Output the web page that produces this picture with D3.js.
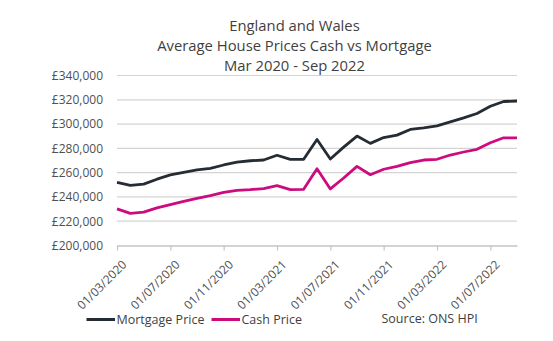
<!DOCTYPE html>
<html>
<head>
<meta charset="utf-8">
<script src="https://d3js.org/d3.v7.min.js"></script>
<style>
  html, body { margin: 0; padding: 0; background: #fff; }
  svg { display: block; font-family: "Open Sans", sans-serif; }
</style>
</head>
<body>
<svg id="chart" width="553" height="341"></svg>
<script>
// monthly figures, Mar 2020 .. Sep 2022
const months = d3.timeMonth.range(new Date(2020, 2, 1), new Date(2022, 9, 1));

const mortgagePrice = [
  252000, 249600, 250500, 254600, 258100, 260300, 262200, 263600, 266300, 268600,
  269800, 270400, 274300, 271000, 271000, 287300, 271200, 281000, 290100, 284100,
  288900, 290900, 295600, 296900, 298500, 301800, 305100, 308700, 314700, 318600,
  319000
];

const cashPrice = [
  230200, 226400, 227500, 231000, 233700, 236400, 238900, 241000, 243800, 245400,
  246000, 246900, 249300, 246000, 246300, 263200, 246600, 255600, 265200, 258300,
  262800, 265200, 268200, 270400, 271000, 274500, 277000, 279200, 284600, 288700,
  288700
];

const yTicks = [200000, 220000, 240000, 260000, 280000, 300000, 320000, 340000];
const titleLines = ["England and Wales", "Average House Prices Cash vs Mortgage", "Mar 2020 - Sep 2022"];

const series = [
  { name: "Mortgage Price", values: mortgagePrice, color: "#252c33" },
  { name: "Cash Price", values: cashPrice, color: "#cc0b7f" }
];

const svg = d3.select("#chart");
const plotL = 117, plotR = 517, plotT = 75.5, plotB = 245.5;

const x = d3.scaleLinear().domain([0, months.length - 1]).range([plotL, plotR]);
const y = d3.scaleLinear().domain([200000, 340000]).range([plotB, plotT]);

const fmtDate = d3.timeFormat("%d/%m/%Y");
const fmtMoney = v => "£" + d3.format(",")(v);

// title
svg.append("g").selectAll("text")
  .data(titleLines)
  .enter().append("text")
  .attr("x", 294.5)
  .attr("y", (d, i) => 31 + i * 19.8)
  .attr("text-anchor", "middle")
  .attr("font-size", 14.8)
  .attr("fill", "#3f3f3f")
  .text(d => d);

// gridlines
svg.append("g").selectAll("line")
  .data(yTicks.slice(1))
  .enter().append("line")
  .attr("x1", plotL).attr("x2", plotR)
  .attr("y1", d => y(d)).attr("y2", d => y(d))
  .attr("stroke", "#d4d4d4")
  .attr("stroke-width", 1.2);

// y axis labels
const yAxis = svg.append("g")
  .attr("transform", `translate(${plotL},0)`)
  .call(d3.axisLeft(y).tickValues(yTicks).tickFormat(fmtMoney).tickSize(0).tickPadding(14));
yAxis.select(".domain").remove();
yAxis.selectAll("text")
  .attr("font-family", "Open Sans, sans-serif")
  .attr("font-size", 12)
  .attr("fill", "#505050");

// x axis, a label every 4 months
const tickIdx = d3.range(0, months.length, 4);
const xAxis = svg.append("g")
  .attr("transform", `translate(0,${plotB})`)
  .call(d3.axisBottom(x).tickValues(tickIdx).tickFormat(i => fmtDate(months[i])).tickSize(5).tickSizeOuter(0));
xAxis.select(".domain").attr("stroke", "#c4c4c4").attr("stroke-width", 1.5);
xAxis.selectAll(".tick line").attr("stroke", "#c4c4c4").attr("stroke-width", 1.2);
xAxis.selectAll("text")
  .attr("font-family", "Open Sans, sans-serif")
  .attr("font-size", 12)
  .attr("fill", "#505050")
  .attr("text-anchor", "end")
  .attr("x", -7)
  .attr("y", 21)
  .attr("dy", 0)
  .attr("transform", "rotate(-45)");

// lines
const line = d3.line()
  .x((d, i) => x(i))
  .y(d => y(d));

svg.append("g").selectAll("path")
  .data(series)
  .enter().append("path")
  .attr("d", d => line(d.values))
  .attr("fill", "none")
  .attr("stroke", d => d.color)
  .attr("stroke-width", 2.8)
  .attr("stroke-linejoin", "round");

// legend
const legend = svg.append("g").attr("transform", "translate(0,319.5)");
const legendX = [86.5, 211.5];
series.forEach((s, i) => {
  legend.append("line")
    .attr("x1", legendX[i]).attr("x2", legendX[i] + 28.5)
    .attr("y1", 0).attr("y2", 0)
    .attr("stroke", s.color)
    .attr("stroke-width", 3);
  legend.append("text")
    .attr("x", legendX[i] + 30)
    .attr("y", 4)
    .attr("font-size", 12.5)
    .attr("fill", "#3f3f3f")
    .text(s.name);
});
legend.append("text")
  .attr("x", 381.5)
  .attr("y", 3)
  .attr("font-size", 12.5)
  .attr("fill", "#3f3f3f")
  .text("Source: ONS HPI");
</script>
</body>
</html>
